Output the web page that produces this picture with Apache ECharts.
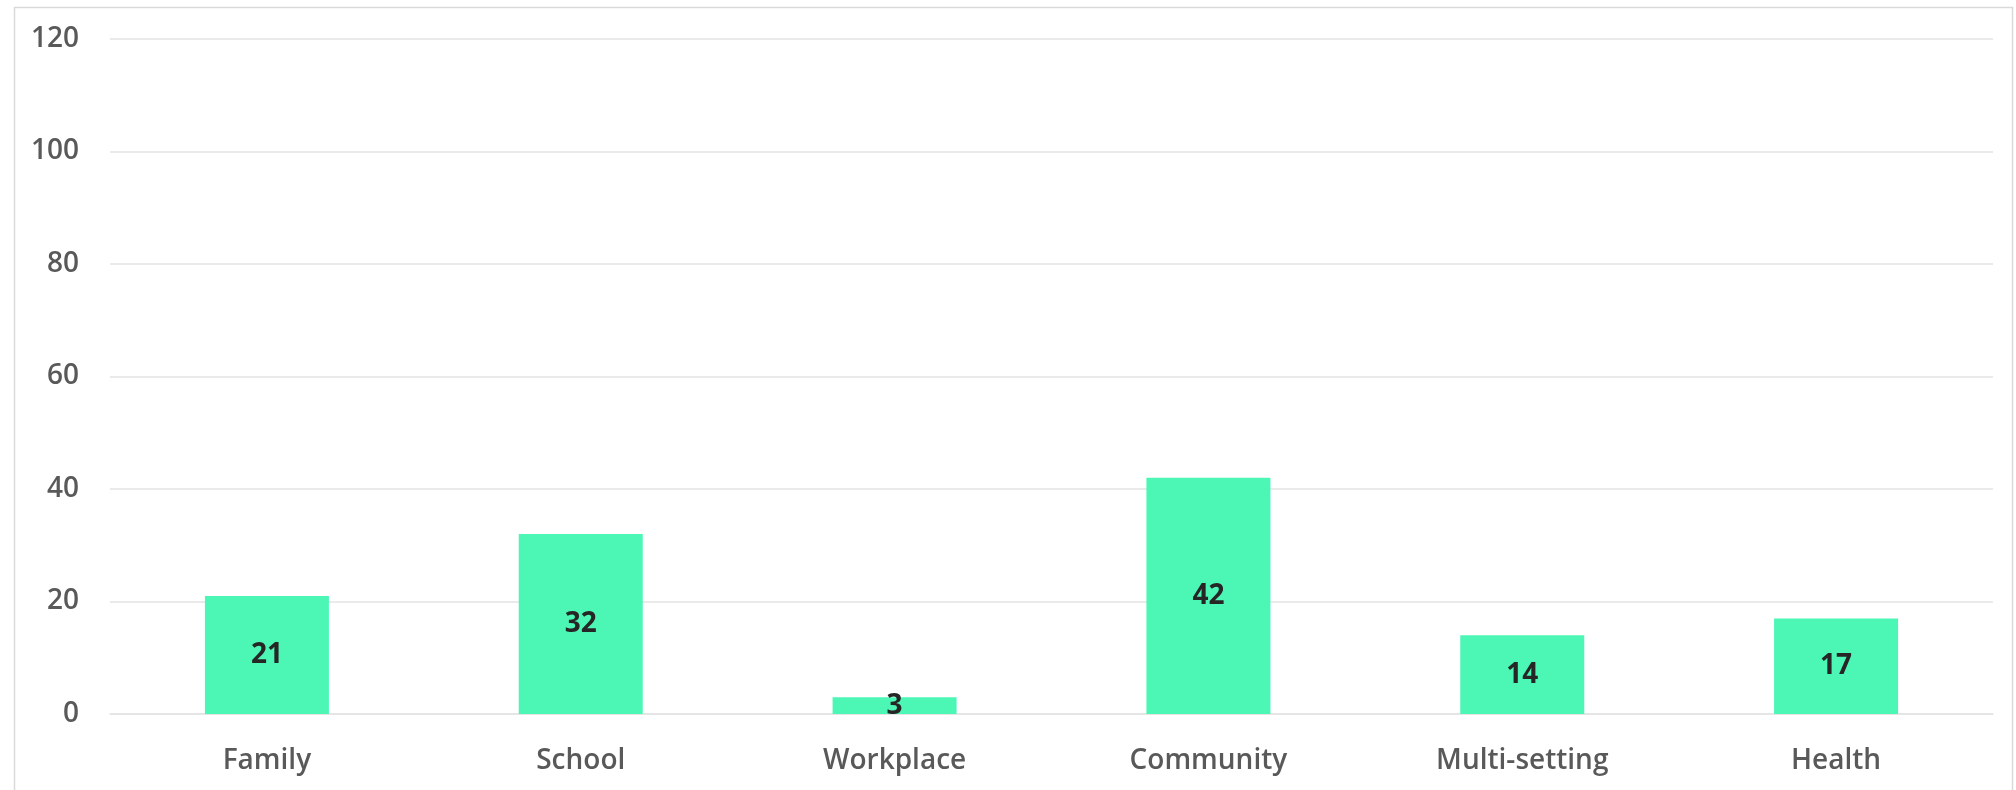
<!DOCTYPE html>
<html>
<head>
<meta charset="utf-8">
<script src="https://cdn.jsdelivr.net/npm/echarts@6/dist/echarts.min.js"></script>
<style>
html,body{margin:0;padding:0;background:#fff;}
#chart{width:2016px;height:790px;}
</style>
</head>
<body>
<div id="chart"></div>
<script>
const categories = ["Family", "School", "Workplace", "Community", "Multi-setting", "Health"];
const values = [21, 32, 3, 42, 14, 17];
const yTicks = [0, 20, 40, 60, 80, 100, 120];

const chart = echarts.init(document.getElementById('chart'), null, {renderer: 'canvas'});
chart.setOption({
  backgroundColor: '#ffffff',
  animation: false,
  graphic: [{
    type: 'rect',
    shape: {x: 14.5, y: 7.5, width: 1998, height: 800},
    style: {fill: 'none', stroke: '#d9d9d9', lineWidth: 1.5},
    silent: true
  }],
  grid: {left: 110, right: 23, top: 39, bottom: 76, containLabel: false},
  xAxis: {
    type: 'category',
    data: categories,
    axisLine: {show: true, lineStyle: {color: '#e3e3e3', width: 1.5}},
    axisTick: {show: false},
    axisLabel: {
      color: '#595959',
      fontFamily: 'Open Sans',
      fontWeight: 600,
      fontSize: 28,
      margin: 33
    }
  },
  yAxis: {
    type: 'value',
    min: yTicks[0],
    max: yTicks[yTicks.length - 1],
    interval: yTicks[1] - yTicks[0],
    axisLine: {show: false},
    axisTick: {show: false},
    splitLine: {lineStyle: {color: '#e3e3e3', width: 1.5}},
    axisLabel: {
      color: '#595959',
      fontFamily: 'Open Sans',
      fontWeight: 600,
      fontSize: 28,
      margin: 31,
      align: 'right'
    }
  },
  series: [{
    type: 'bar',
    data: values,
    barWidth: 124,
    itemStyle: {color: '#4cf7b6'},
    label: {
      show: true,
      position: 'inside',
      color: '#262626',
      fontFamily: 'Open Sans',
      fontWeight: 700,
      fontSize: 28
    }
  }]
});
</script>
</body>
</html>
